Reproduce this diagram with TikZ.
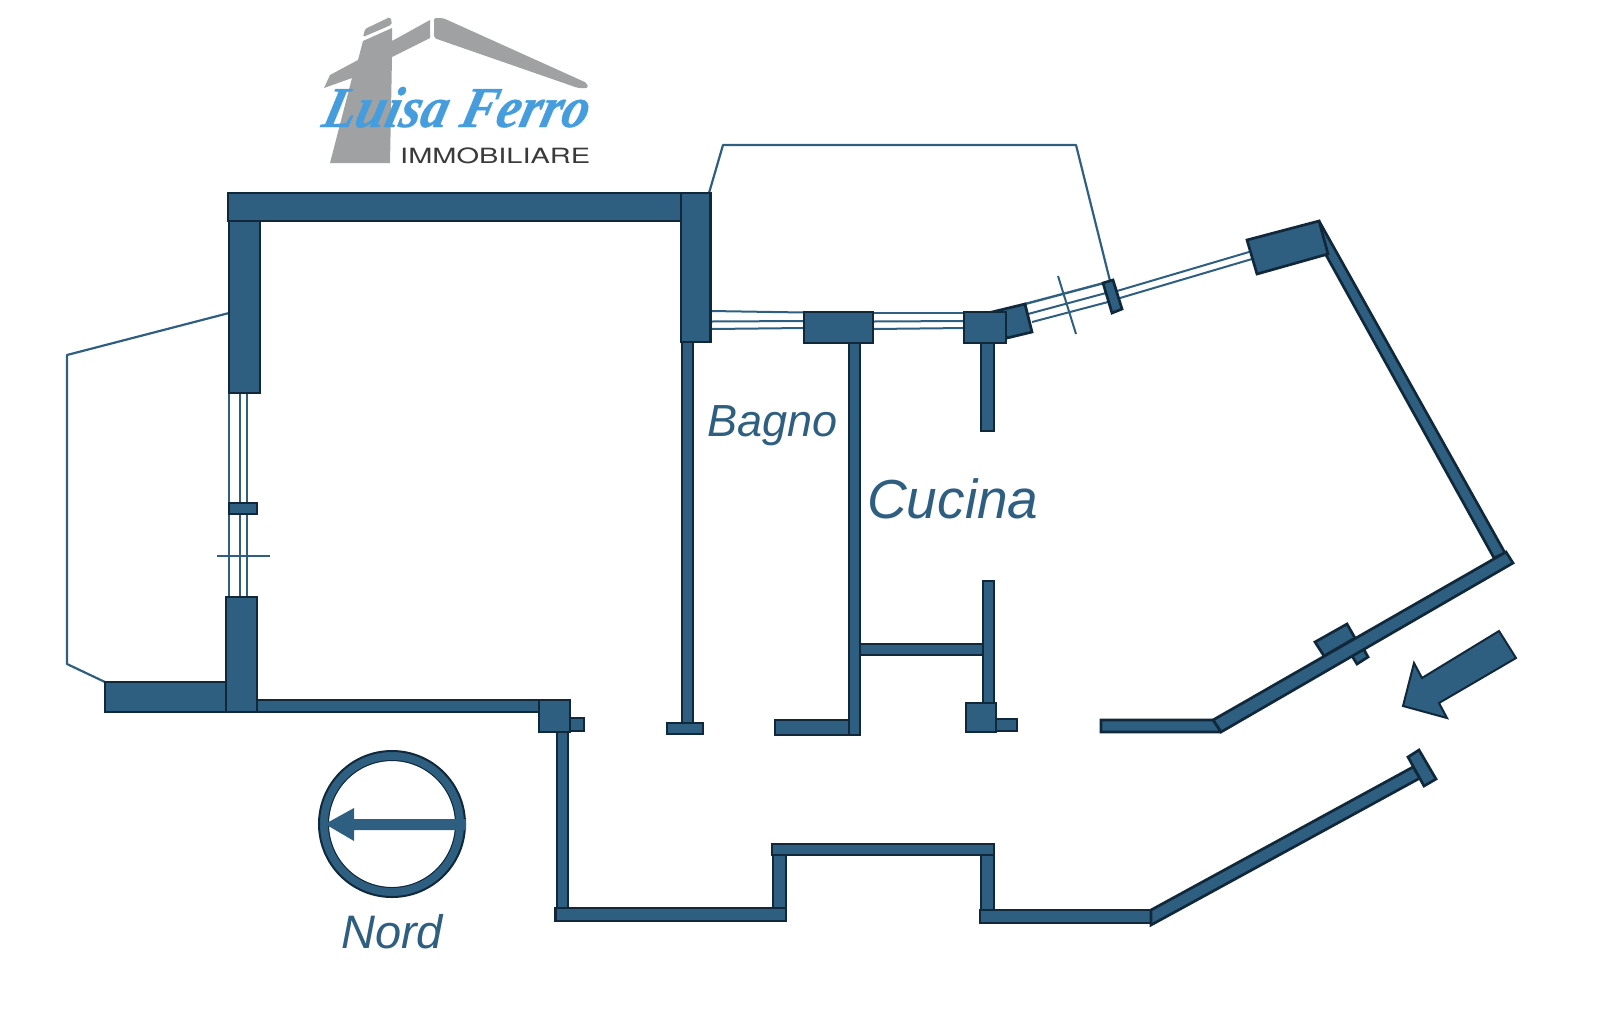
\documentclass[tikz,border=0pt]{standalone}
\usepackage{fontspec}
\setmainfont{Liberation Sans}
\newfontfamily\logoscript[FakeSlant=0.25,FakeStretch=0.92,FakeBold=0.6]{Liberation Serif}
\newfontfamily\logoplain[FakeStretch=1.38]{TeX Gyre Heros}
\definecolor{wallblue}{HTML}{2E5F80}
\definecolor{walldark}{HTML}{10283A}
\definecolor{logogray}{HTML}{A0A1A3}
\definecolor{logoblue}{HTML}{459DDE}
\definecolor{logoblack}{HTML}{3A3A3C}
\tikzset{
  wall/.style={fill=wallblue,draw=walldark,line width=2.7pt,line join=miter,miter limit=2},
  glass/.style={draw=wallblue,line width=2pt},
  balcony/.style={draw=wallblue,line width=2.2pt},
  room/.style={text=wallblue,inner sep=0pt,font=\itshape},
}
\begin{document}
\begin{tikzpicture}[x=1pt,y=-1pt]
\useasboundingbox (0,0) rectangle (1600,1013);
% logo
\fill[logogray,rounded corners=1.5pt] (363,37) -- (365,29) -- (390,17) -- (392,22) -- (391,25) -- cycle;
\fill[logogray] (324,88) -- (330,75) -- (358,60) -- (363,41) -- (392,28) -- (392,41) -- (430,20) -- (430,38) -- (392,57) -- (390,163) -- (330,163) -- (352,78) -- cycle;
\fill[logogray,rounded corners=2pt] (434,18) -- (443,18) -- (587,83) -- (588,88) -- (578,88) -- (434,38) -- cycle;
\node[anchor=base west,inner sep=0pt,text=logoblue] (logoname) at (320,127) {\logoscript\bfseries\itshape\fontsize{58}{60}\selectfont Luisa Ferro};
\node[anchor=base west,inner sep=0pt,text=logoblack] (logosub) at (400,163) {\logoplain\fontsize{21}{22}\selectfont IMMOBILIARE};
% balconies
\draw[balcony,line join=round] (709,193) -- (723,145) -- (1076,145) -- (1110,281);
\draw[balcony,line join=round] (229,313) -- (67,355) -- (67,664) -- (105,682);
% windows, top
\draw[glass] (711,311) -- (804,312.5);
\draw[glass] (711,321.5) -- (804,321);
\draw[glass] (711,329) -- (804,328);
\draw[glass] (873,312.5) -- (965,312.5);
\draw[glass] (873,321.5) -- (965,321);
\draw[glass] (873,329) -- (965,328);
\draw[glass,line width=2.4pt] (1025,304) -- (1104,283);
\draw[glass] (1028,314) -- (1106,293);
\draw[glass] (1032,322) -- (1108,302);
\draw[glass] (1117,291) -- (1249,252);
\draw[glass] (1120,298) -- (1252,259);
\draw[glass] (1058,276) -- (1076,334);
% windows, left
\draw[glass,line width=2.4pt] (229,393) -- (229,597);
\draw[glass] (240,393) -- (240,597);
\draw[glass] (247,393) -- (247,597);
\draw[glass] (217,556) -- (270,556);
% top and left walls
\draw[wall] (228,193) rectangle (682,221);
\draw[wall] (229,221) rectangle (260,393);
\draw[wall] (681,193) rectangle (710.5,342);
\draw[wall] (229,503) rectangle (257,514);
\draw[wall] (105,682) rectangle (226,712);
\draw[wall] (257,700) rectangle (539,712);
\draw[wall] (226,597) rectangle (257,712);
% interior walls
\draw[wall] (682,342) rectangle (693,723);
\draw[wall] (667,723) rectangle (703,734);
\draw[wall] (849,343) rectangle (860,735);
\draw[wall] (775,720) rectangle (849,735);
\draw[wall] (860,644) rectangle (983,655);
\draw[wall] (981,343) rectangle (994,431);
\draw[wall] (983,581) rectangle (994,703);
\draw[wall] (996,719) rectangle (1017,731);
\draw[wall] (966,703) rectangle (996,732);
\draw[wall] (804,312) rectangle (873,343);
\draw[wall] (992,312) -- (1025,304) -- (1032,332) -- (1007,338) -- cycle;
\draw[wall] (964,312) rectangle (1006,343);
\draw[wall] (1103,283) -- (1113,280) -- (1122,309) -- (1112,313) -- cycle;
% slanted walls, right side
\draw[wall] (1319,221) -- (1505,553) -- (1494,558) -- (1326,255) -- cycle;
\draw[wall] (1247,240) -- (1319,221) -- (1328,254) -- (1257,274) -- cycle;
\draw[wall] (1315,642) -- (1347,624) -- (1355,638) -- (1324,656) -- cycle;
\draw[wall] (1352,656) -- (1363,648) -- (1368,657) -- (1357,664) -- cycle;
\draw[wall] (1213,720) -- (1506,552) -- (1513,563) -- (1221,732) -- cycle;
\draw[wall] (1101,720) -- (1213,720) -- (1221,732) -- (1101,732) -- cycle;
% entry arrow
\draw[wall,line width=2pt,miter limit=10] (1499,631) -- (1516,658) -- (1439,703) -- (1447,718) -- (1403,706) -- (1414,663) -- (1422,678) -- cycle;
% corridor walls
\draw[wall] (570,718) rectangle (584,731);
\draw[wall] (539,700) rectangle (570,732);
\draw[wall] (557,732) rectangle (568,908);
\draw[wall] (773,855) rectangle (786,921);
\draw[wall] (981,855) rectangle (994,910);
\draw[wall] (555.5,908) rectangle (786,921);
\draw[wall] (772,844) rectangle (994,855);
\draw[wall] (980,910) rectangle (1151,923);
\draw[wall] (1151,910) -- (1413,767) -- (1420,778) -- (1151,925) -- cycle;
\draw[wall] (1408,757) -- (1419,750) -- (1436,779) -- (1424,786) -- cycle;
% compass
\draw[wallblue,line width=9.5pt] (392,824) circle (68);
\draw[walldark,line width=2pt] (392,824) circle (73);
\draw[walldark,line width=1pt] (392,824) circle (63.5);
\fill[wallblue] (325,824) -- (354,808) -- (354,819) -- (466,819) -- (466,830) -- (354,830) -- (354,841) -- cycle;
% labels
\node[room,anchor=base west] (nord) at (341,948) {\fontsize{47}{50}\selectfont Nord};
\node[room,anchor=base west] (bagno) at (707,436) {\fontsize{45}{50}\selectfont Bagno};
\node[room,anchor=base west] (cucina) at (867,518) {\fontsize{55}{60}\selectfont Cucina};
\end{tikzpicture}
\end{document}
